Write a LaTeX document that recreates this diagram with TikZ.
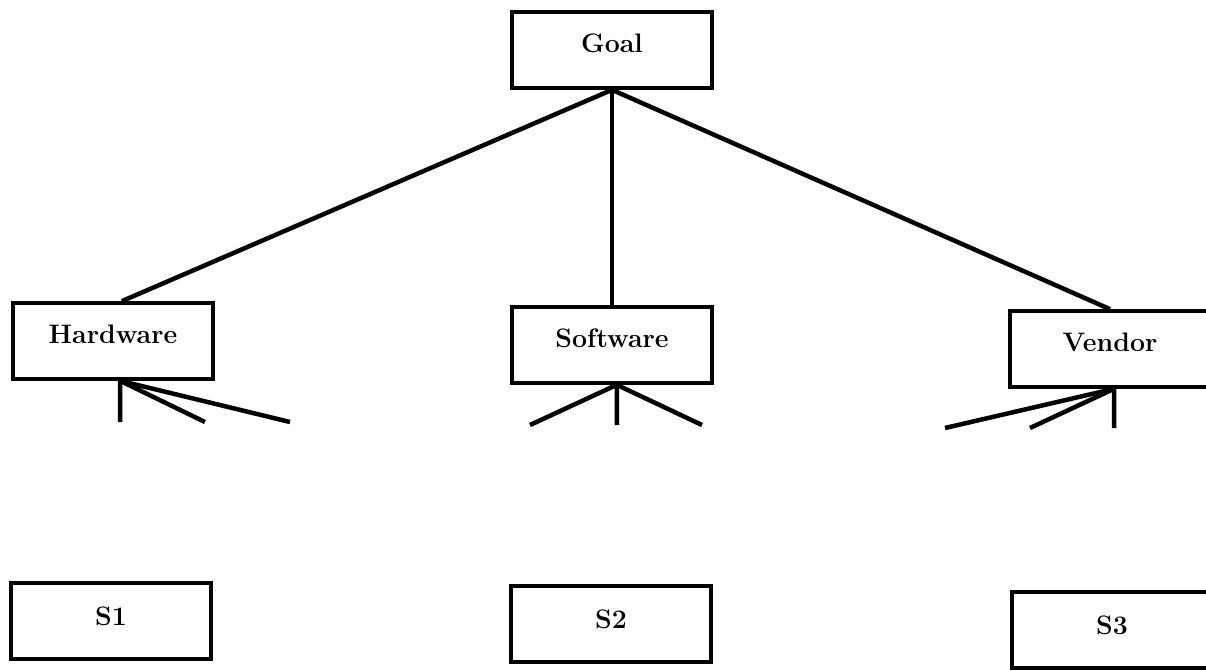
\documentclass[tikz,border=0pt]{standalone}
\usepackage{tikz}

\tikzset{
	crit/.style={draw, line width=2.6pt, minimum width=5cm, minimum height=1.9cm,
		inner sep=2pt, font=\fontsize{19}{21}\selectfont\bfseries,
		text height=0.5cm, text depth=0.4cm},
	alt/.style={crit, text depth=0.26cm},
	link/.style={line width=3.2pt}
}

\begin{document}
\begin{tikzpicture}[x=0.025cm, y=-0.025cm]
	\useasboundingbox (0,0) rectangle (1206,671);
	% hierarchy
	\node[crit] (goal) at (612,50) {Goal};
	\node[crit] (hw) at (113,341) {Hardware};
	\node[crit] (sw) at (612,345) {Software};
	\node[crit] (vd) at (1110,349) {Vendor};
	\node[alt] (s1) at (111,621) {S1};
	\node[alt] (s2) at (611,624) {S2};
	\node[alt] (s3) at (1112,630) {S3};
	\draw [link] (goal.south) -- ([xshift=0.22cm]hw.north);
	\draw [link] (goal.south) -- (sw.north);
	\draw [link] (goal.south) -- (vd.north);
	% loose ends below the criteria
	\coordinate (hw1) at (120,422);
	\coordinate (hw2) at (205,422);
	\coordinate (hw3) at (290,422);
	\coordinate (sw1) at (530,425);
	\coordinate (sw2) at (617,425);
	\coordinate (sw3) at (702,425);
	\coordinate (vd1) at (945,428);
	\coordinate (vd2) at (1030,428);
	\coordinate (vd3) at (1114,428);
	\foreach \i in {1,2,3}
	\draw [link] ([xshift=0.18cm]hw.south) -- (hw\i);
	\foreach \i in {1,2,3}
	\draw [link] ([xshift=0.12cm]sw.south) -- (sw\i);
	\foreach \i in {1,2,3}
	\draw [link] ([xshift=0.1cm]vd.south) -- (vd\i);
\end{tikzpicture}
\end{document}
